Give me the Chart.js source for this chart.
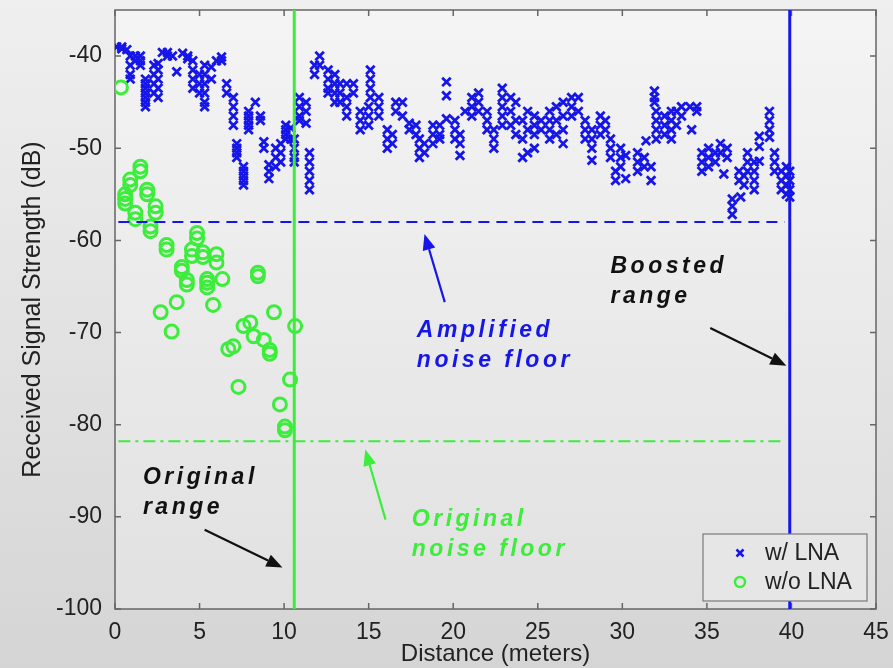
<!DOCTYPE html>
<html>
<head>
<meta charset="utf-8">
<script src="https://cdn.jsdelivr.net/npm/chart.js@4.4.1/dist/chart.umd.min.js"></script>
<style>
  html, body { margin: 0; padding: 0; background: #e0e0e0; }
  #wrap { width: 893px; height: 668px; }
</style>
</head>
<body>
<div id="wrap"><canvas id="rssChart"></canvas></div>
<script>
// distances (m) at which the LNA receiver was sampled, with the readings (dB) taken there
const lnaDist = [0.1, 0.4, 0.7, 0.9, 1.2, 1.5, 1.8, 2.3, 2.55, 2.8, 3.1, 3.4, 3.65, 4.0, 4.3, 4.6, 5.0, 5.3, 5.7, 6.0,
  6.3, 6.6, 7.0, 7.2, 7.6, 7.9, 8.3, 8.6, 8.8, 9.1, 9.5, 9.8, 10.1, 10.4, 10.6, 10.9, 11.3, 11.5, 11.8, 12.1,
  12.6, 13.0, 13.3, 13.7, 14.1, 14.5, 15.0, 15.1, 15.6, 16.1, 16.4, 16.6, 17.0, 17.4, 17.8, 18.0, 18.3, 18.8, 19.2, 19.6,
  20.1, 20.4, 20.7, 21.1, 21.5, 22.0, 22.4, 22.9, 23.4, 23.7, 24.1, 24.4, 24.8, 25.2, 25.7, 26.1, 26.5, 27.0, 27.4, 27.8,
  28.2, 28.7, 29.0, 29.3, 29.6, 29.9, 30.2, 30.9, 31.3, 31.4, 31.7, 31.9, 32.0, 32.5, 32.9, 33.2, 33.5, 34.0, 34.1, 34.4,
  34.7, 35.1, 35.5, 35.8, 36.0, 36.2, 36.5, 36.9, 37.0, 37.2, 37.4, 37.8, 38.1, 38.7, 39.0, 39.4, 39.7, 39.9];
const lnaRss = [
  [-39], [-39.2, -39], [-39.3], [-40, -41, -42, -42.5], [-40, -40.5], [-40, -40.5, -41],
  [-42.5, -43, -43.5, -44, -44.5, -45, -45.5], [-41, -42, -43, -44], [-40.8, -41.5, -42.5, -43.5, -44.5],
  [-39.6], [-39.6, -40], [-40], [-41.7], [-39.7], [-40, -40.3], [-40.5, -41.5, -42.5, -43.5], [-42, -43, -44],
  [-41, -42, -43, -44, -45, -45.5], [-41.2, -42.5], [-40.5],
  [-40.1, -40.5], [-43, -44], [-44.5, -45.5, -46.5, -47.5], [-49.5, -50, -50.5, -51], [-52, -52.5, -53, -53.5, -54],
  [-46, -46.5, -47, -47.5, -48], [-45], [-46.5, -47], [-49.3, -50], [-51.8, -52.5, -53.3], [-50, -51, -52],
  [-49.5, -50.5, -51.5], [-47.5, -48, -48.5, -49], [-47.8, -49], [-49, -50, -51, -51.5], [-44.5, -45.5, -46.5, -47],
  [-45, -46, -47.3], [-50.5, -51.5, -52.5, -53.5, -54.5], [-41, -42], [-40, -41],
  [-41.5, -42.5, -43.5, -44], [-42, -43, -44, -45], [-43, -44, -45], [-43, -44.5, -45.5, -46.5], [-43, -44],
  [-46, -47, -48], [-45.5, -46.5, -47.5], [-41.5, -42.5, -43.5, -44.5], [-44.5, -45.5, -46.5], [-48, -49, -50],
  [-48.5, -49.5], [-45, -46], [-45, -46.5], [-47.3, -48], [-47.5, -48.5], [-49, -50, -51], [-49.5, -50.5],
  [-47.5, -48.5, -49.5], [-47.5, -48.5, -49], [-42.8, -44.3, -46.8],
  [-47, -48, -49], [-48.5, -49.5, -50.8], [-46], [-44.5, -45.5, -46.5], [-44, -45, -46], [-46, -47, -48],
  [-48, -49, -50], [-43.5, -44.5, -45.5, -46.5, -47.5], [-44.5, -46, -47.5], [-45, -47, -48.5], [-47, -49, -51],
  [-46, -48, -50.5], [-46.5, -47.5, -48.5, -50], [-47, -48], [-46, -47, -48, -49], [-45.5, -47, -48.5],
  [-45, -46.5, -48, -49.5], [-44.5, -45.5, -46.5], [-44.5, -46], [-47, -48, -49],
  [-48, -49, -50, -51.3], [-46.5, -47.5, -48.5], [-47, -48], [-49, -50, -51], [-52.5, -53.5], [-50, -51, -52],
  [-50.8, -53.3], [-50.5, -51.5, -52.5], [-51, -52], [-49.2], [-52, -53.5], [-43.8, -44.5, -45], [-46, -47, -48, -49],
  [-46.5, -47.5, -48.5], [-46, -47, -48, -49], [-46, -47.5], [-45.5, -46.5], [-45.5], [-48], [-45.5, -46],
  [-50.5, -51.5, -52.5], [-50, -51, -52], [-50.5, -51.5], [-49.5, -50.5], [-52.8], [-50, -51], [-55.5, -56.3, -57.2],
  [-52.5, -53.5], [-55.3], [-53, -54], [-50.5, -51.5, -52.5], [-51.5, -52.5, -53.5, -54.5], [-48.7, -49.8, -51.4],
  [-46, -47, -48, -48.8], [-50.5, -51.5, -52.5], [-52.5, -53.5, -54.5], [-52, -53, -54, -55], [-52.5, -53.5, -54.5, -55.3]];

// same for the receiver without LNA
const rawDist = [0.35, 0.6, 0.9, 1.2, 1.5, 1.9, 2.1, 2.4, 2.7, 3.05, 3.35, 3.65, 3.95, 4.25, 4.55, 4.85, 5.2, 5.45,
  5.8, 6.0, 6.35, 6.7, 7.0, 7.3, 7.6, 8.0, 8.2, 8.45, 8.8, 9.15, 9.4, 9.75, 10.05, 10.35, 10.65];
const rawRss = [
  [-43.4], [-55, -55.5, -56], [-53.4, -54], [-57, -57.7], [-52, -52.5], [-54.5, -55], [-58.5, -59], [-56.3, -57],
  [-67.8], [-60.5, -61], [-69.9], [-66.7], [-62.9, -63.3], [-64.3, -64.8], [-61, -61.7], [-59.2, -59.8],
  [-61.3, -61.8], [-64.2, -64.6, -65.1], [-67], [-61.5, -62.4], [-64.2], [-71.8], [-71.5], [-75.9], [-69.3],
  [-68.9], [-70.4], [-63.5, -63.9], [-70.8], [-71.9, -72.3], [-67.8], [-77.8], [-80.2, -80.6], [-75.1], [-69.3]];

const xTicks = [0, 5, 10, 15, 20, 25, 30, 35, 40, 45];
const yTicks = [-100, -90, -80, -70, -60, -50, -40];

const rangeOriginal = 10.6;   // m
const rangeBoosted = 39.9;    // m
const floorAmplified = -58;   // dB
const floorOriginal = -81.8;  // dB

const BLUE = '#1616e8';
const GREEN = '#3ced3c';

function toPoints(xs, ys) {
  const pts = [];
  xs.forEach((x, i) => ys[i].forEach(y => pts.push({ x: x, y: y })));
  return pts;
}

// text notes and arrows, placed in data units
const notes = [
  { lines: ['Boosted', 'range'], x: 29.3, y: -62.9, color: '#111' },
  { lines: ['Amplified', 'noise floor'], x: 17.85, y: -69.8, color: BLUE },
  { lines: ['Original', 'range'], x: 1.65, y: -85.7, color: '#111' },
  { lines: ['Original', 'noise floor'], x: 17.55, y: -90.3, color: GREEN }
];
const arrows = [
  { from: [19.5, -66.7], to: [18.3, -59.3], color: BLUE },
  { from: [35.2, -69.5], to: [39.7, -73.6], color: '#111' },
  { from: [5.3, -91.4], to: [9.9, -95.5], color: '#111' },
  { from: [16.0, -90.3], to: [14.8, -82.7], color: GREEN }
];

const FONT = '"Liberation Sans", Arial, Helvetica, sans-serif';

const decor = {
  id: 'decor',
  beforeDraw(chart) {
    const { ctx, chartArea: a, width, height } = chart;
    ctx.save();
    let g = ctx.createLinearGradient(0, 0, 0, height);
    g.addColorStop(0, '#efefef');
    g.addColorStop(1, '#d5d5d5');
    ctx.fillStyle = g;
    ctx.fillRect(0, 0, width, height);
    g = ctx.createLinearGradient(0, a.top, 0, a.bottom);
    g.addColorStop(0, '#f4f4f4');
    g.addColorStop(1, '#e1e1e1');
    ctx.fillStyle = g;
    ctx.fillRect(a.left, a.top, a.right - a.left, a.bottom - a.top);
    ctx.restore();
  },
  beforeDatasetsDraw(chart) {
    const { ctx, chartArea: a, scales } = chart;
    ctx.save();
    ctx.strokeStyle = '#666';
    ctx.lineWidth = 1.5;
    ctx.strokeRect(a.left, a.top, a.right - a.left, a.bottom - a.top);
    ctx.beginPath();
    xTicks.forEach(v => {
      const px = scales.x.getPixelForValue(v);
      ctx.moveTo(px, a.bottom); ctx.lineTo(px, a.bottom - 6);
      ctx.moveTo(px, a.top); ctx.lineTo(px, a.top + 6);
    });
    yTicks.forEach(v => {
      const py = scales.y.getPixelForValue(v);
      ctx.moveTo(a.left, py); ctx.lineTo(a.left + 6, py);
      ctx.moveTo(a.right, py); ctx.lineTo(a.right - 6, py);
    });
    ctx.stroke();
    ctx.restore();
  },
  afterDatasetsDraw(chart) {
    const { ctx, chartArea: a, scales } = chart;
    const sx = scales.x, sy = scales.y;
    ctx.save();
    // notes
    ctx.font = 'italic bold 23px ' + FONT;
    ctx.letterSpacing = '3.5px';
    ctx.textBaseline = 'middle';
    ctx.textAlign = 'left';
    notes.forEach(n => {
      ctx.fillStyle = n.color;
      n.lines.forEach((t, i) => {
        ctx.fillText(t, sx.getPixelForValue(n.x), sy.getPixelForValue(n.y) + i * 30);
      });
    });
    ctx.letterSpacing = '0px';
    // arrows
    arrows.forEach(ar => {
      const x0 = sx.getPixelForValue(ar.from[0]), y0 = sy.getPixelForValue(ar.from[1]);
      const x1 = sx.getPixelForValue(ar.to[0]), y1 = sy.getPixelForValue(ar.to[1]);
      const ang = Math.atan2(y1 - y0, x1 - x0);
      const len = 16, half = 6.5;
      const bx = x1 - len * Math.cos(ang), by = y1 - len * Math.sin(ang);
      ctx.strokeStyle = ar.color;
      ctx.fillStyle = ar.color;
      ctx.lineWidth = 2.2;
      ctx.beginPath();
      ctx.moveTo(x0, y0);
      ctx.lineTo(bx, by);
      ctx.stroke();
      ctx.beginPath();
      ctx.moveTo(x1, y1);
      ctx.lineTo(bx + half * Math.sin(ang), by - half * Math.cos(ang));
      ctx.lineTo(bx - half * Math.sin(ang), by + half * Math.cos(ang));
      ctx.closePath();
      ctx.fill();
    });
    // legend box, bottom right
    const lw = 164, lh = 67;
    const lx = a.right - 9 - lw, ly = a.bottom - 8 - lh;
    ctx.fillStyle = '#e6e6e6';
    ctx.fillRect(lx, ly, lw, lh);
    ctx.strokeStyle = '#7a7a7a';
    ctx.lineWidth = 1.2;
    ctx.strokeRect(lx, ly, lw, lh);
    const mx = lx + 37, r1 = ly + 19, r2 = ly + 48;
    ctx.strokeStyle = BLUE;
    ctx.lineWidth = 2.5;
    ctx.beginPath();
    ctx.moveTo(mx - 3.5, r1 - 3.5); ctx.lineTo(mx + 3.5, r1 + 3.5);
    ctx.moveTo(mx + 3.5, r1 - 3.5); ctx.lineTo(mx - 3.5, r1 + 3.5);
    ctx.stroke();
    ctx.strokeStyle = GREEN;
    ctx.beginPath();
    ctx.arc(mx, r2, 5, 0, Math.PI * 2);
    ctx.stroke();
    ctx.fillStyle = '#222';
    ctx.font = '23px ' + FONT;
    ctx.fillText('w/ LNA', lx + 62, r1 + 1);
    ctx.fillText('w/o LNA', lx + 62, r2 + 1);
    ctx.restore();
  }
};

function refLine(points, color, width, dash) {
  return {
    type: 'scatter', data: points, showLine: true, borderColor: color, borderWidth: width,
    borderDash: dash, pointRadius: 0, order: 0
  };
}

new Chart(document.getElementById('rssChart'), {
  type: 'scatter',
  data: {
    datasets: [
      {
        label: 'w/ LNA', data: toPoints(lnaDist, lnaRss), pointStyle: 'crossRot', pointRadius: 6,
        borderColor: BLUE, backgroundColor: BLUE, borderWidth: 2.8, order: 2
      },
      {
        label: 'w/o LNA', data: toPoints(rawDist, rawRss), pointStyle: 'circle', pointRadius: 6.5,
        borderColor: GREEN, backgroundColor: 'rgba(0,0,0,0)', borderWidth: 3, order: 1
      },
      refLine([{ x: 0.2, y: floorAmplified }, { x: rangeBoosted - 0.3, y: floorAmplified }], BLUE, 2, [11, 7]),
      refLine([{ x: 0.2, y: floorOriginal }, { x: rangeBoosted - 0.3, y: floorOriginal }], GREEN, 2, [12, 5, 3, 5]),
      refLine([{ x: rangeOriginal, y: -100 }, { x: rangeOriginal, y: -35 }], GREEN, 3, []),
      refLine([{ x: rangeBoosted, y: -100 }, { x: rangeBoosted, y: -35 }], BLUE, 3, [])
    ]
  },
  options: {
    responsive: true,
    maintainAspectRatio: false,
    animation: false,
    layout: { padding: { top: 10, right: 17, left: 0, bottom: 0 } },
    plugins: { legend: { display: false }, tooltip: { enabled: false } },
    scales: {
      x: {
        type: 'linear', min: 0, max: 45,
        afterBuildTicks: s => { s.ticks = xTicks.map(v => ({ value: v })); },
        afterFit: s => { s.height = 59; s.paddingLeft = 0; s.paddingRight = 0; },
        grid: { display: false, drawTicks: false },
        border: { display: false },
        ticks: { padding: 10, color: '#222', font: { family: FONT, size: 23 }, maxRotation: 0 },
        title: {
          display: true, text: 'Distance (meters)', color: '#222',
          font: { family: FONT, size: 24, lineHeight: 1.1 }, padding: { top: 0, bottom: 0 }
        }
      },
      y: {
        type: 'linear', min: -100, max: -35,
        afterBuildTicks: s => { s.ticks = yTicks.map(v => ({ value: v })); },
        afterFit: s => { s.width = 115; s.paddingTop = 0; s.paddingBottom = 0; },
        grid: { display: false, drawTicks: false },
        border: { display: false },
        ticks: { padding: 13, color: '#222', font: { family: FONT, size: 23 } },
        title: {
          display: true, text: 'Received Signal Strength (dB)', color: '#222',
          font: { family: FONT, size: 25, lineHeight: 1.1 }, padding: { top: 19, bottom: 0 }
        }
      }
    }
  },
  plugins: [decor]
});
</script>
</body>
</html>
